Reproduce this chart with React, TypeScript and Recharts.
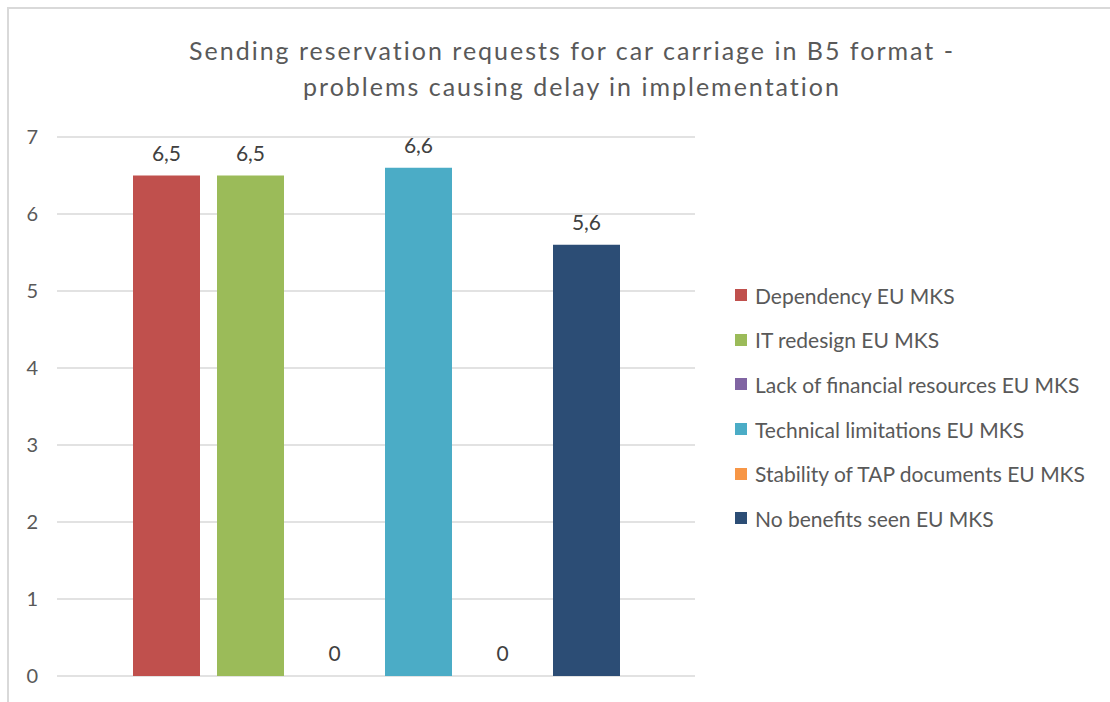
import React from 'react';
import { BarChart, Bar, XAxis, YAxis, CartesianGrid, LabelList } from 'recharts';

const categories = ['EU MKS'];
const seriesNames = [
  'Dependency EU MKS',
  'IT redesign EU MKS',
  'Lack of financial resources EU MKS',
  'Technical limitations EU MKS',
  'Stability of TAP documents EU MKS',
  'No benefits seen EU MKS',
];
const seriesValues = [6.5, 6.5, 0, 6.6, 0, 5.6];
const seriesColors = ['#c0504d', '#9bbb59', '#8064a2', '#4bacc6', '#f79646', '#2c4d75'];
const yTicks = [0, 1, 2, 3, 4, 5, 6, 7];
const titleLines = [
  'Sending reservation requests for car carriage in B5 format -',
  'problems causing delay in implementation',
];

const FONT = 'Lato, "Open Sans", sans-serif';

// one row per category, one key per series
const data = categories.map((c) => {
  const row: Record<string, string | number> = { name: c };
  seriesNames.forEach((_, i) => {
    row[`s${i}`] = seriesValues[i];
  });
  return row;
});

const fmt = (v: any) => String(v).replace('.', ',');

// zero bars still need a rectangle so their "0" label gets drawn
const minSize = (v: any) => (v === 0 ? 0.01 : 0);

const App: React.FC = () => {
  return (
    <div style={{ position: 'absolute', left: 0, top: 0, width: 1110, height: 702, background: '#fff', fontFamily: FONT, overflow: 'hidden' }}>
      {/* chart frame */}
      <div
        style={{
          position: 'absolute',
          left: 7,
          top: 7,
          width: 1110,
          height: 702,
          borderTop: '2px solid #d9d9d9',
          borderLeft: '2px solid #d9d9d9',
        }}
      />

      {/* title */}
      <div
        style={{
          position: 'absolute',
          left: 122,
          width: 900,
          top: 32,
          textAlign: 'center',
          fontSize: 25,
          letterSpacing: 2,
          lineHeight: '36px',
          color: '#595959',
        }}
      >
        {titleLines.map((t, i) => (
          <div key={i}>{t}</div>
        ))}
      </div>

      <div style={{ position: 'absolute', left: 0, top: 0 }}>
        <BarChart
          width={1110}
          height={702}
          data={data}
          margin={{ top: 137, right: 415, bottom: 26, left: 0 }}
          barGap={17}
        >
          <CartesianGrid horizontal vertical={false} stroke="#d9d9d9" strokeWidth={1.5} />
          <XAxis dataKey="name" hide />
          <YAxis
            width={57}
            domain={[0, 7]}
            ticks={yTicks}
            axisLine={false}
            tickLine={false}
            tickSize={0}
            tickMargin={19}
            tick={{ fill: '#595959', fontSize: 20, fontFamily: FONT }}
          />
          {seriesNames.map((s, i) => (
            <Bar
              key={s}
              dataKey={`s${i}`}
              name={s}
              fill={seriesColors[i]}
              barSize={67}
              minPointSize={minSize}
              isAnimationActive={false}
            >
              <LabelList
                dataKey={`s${i}`}
                position="top"
                offset={15}
                formatter={fmt}
                fill="#404040"
                fontSize={21}
                fontFamily={FONT}
              />
            </Bar>
          ))}
        </BarChart>
      </div>

      {/* legend */}
      <div style={{ position: 'absolute', left: 735, top: 273 }}>
        {seriesNames.map((s, i) => (
          <div key={s} style={{ display: 'flex', alignItems: 'center', height: 44.6, fontSize: 21, color: '#595959', whiteSpace: 'nowrap' }}>
            <span style={{ display: 'inline-block', width: 12, height: 12, background: seriesColors[i], marginRight: 8 }} />
            {s}
          </div>
        ))}
      </div>
    </div>
  );
};

export default App;
